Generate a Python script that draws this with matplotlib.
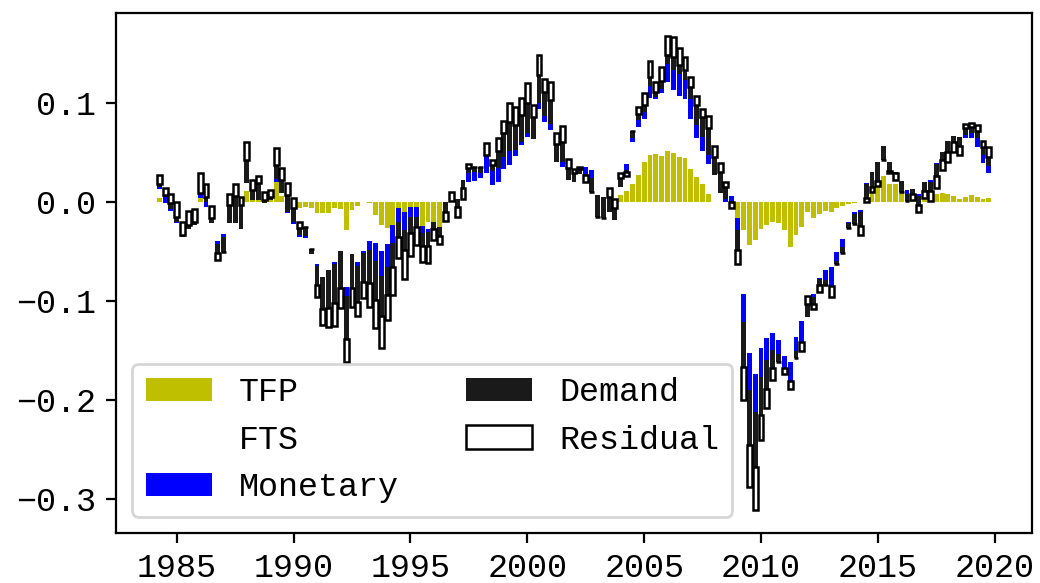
import numpy as np
import matplotlib
matplotlib.use("Agg")
import matplotlib.pyplot as plt

plt.rcParams['font.family'] = ['Liberation Mono', 'DejaVu Sans Mono']
plt.rcParams['font.size'] = 12

# quarters 1984Q2 .. 2019Q4
quarters = [f"{1984 + (k + 1) // 4}Q{(k + 1) % 4 + 1}" for k in range(143)]

tfp = [
    0.004, 0, 0, 0, 0, 0, 0, 0.004, 0.002, 0,
    0, 0, 0, 0, 0, 0.011, 0.005, 0.010, 0.005, 0.005,
    0.020, 0.006, 0, 0, -0.006, -0.005, -0.006, -0.011, -0.011, -0.011,
    -0.006, -0.007, -0.028, -0.008, -0.004, 0, -0.001, -0.013, -0.023, -0.026,
    -0.023, -0.010, -0.010, -0.005, -0.015, -0.025, -0.020, -0.020, -0.025, -0.005,
    0, 0, 0, 0, 0, 0, 0, 0, 0, 0,
    0, 0, 0, 0, 0, 0, 0, 0, 0, 0,
    0, 0, 0, 0, 0, 0, 0, 0, 0, 0.007,
    0.011, 0.018, 0.027, 0.040, 0.048, 0.049, 0.047, 0.052, 0.050, 0.046,
    0.045, 0.033, 0.025, 0.018, 0.008, 0, 0, 0, 0, -0.016,
    -0.028, -0.043, -0.038, -0.027, -0.023, -0.020, -0.021, -0.028, -0.045, -0.033,
    -0.025, -0.010, -0.016, -0.012, -0.009, -0.010, -0.006, -0.004, -0.002, -0.001,
    0, 0.001, 0.010, 0.0165, 0.026, 0.018, 0.018, 0.010, 0.008, 0.004,
    0.002, 0.004, 0.004, 0.008, 0.009, 0.008, 0.006, 0.003, 0.005, 0.007,
    0.005, 0.003, 0.004]

fts = [
    0.0088, -0.0007, -0.0088, -0.0209, -0.0357, -0.0276, -0.0233, 0.0004, -0.0074, -0.0216,
    -0.0394, -0.0324, -0.0216, -0.0216, -0.0276, 0.0079, -0.0030, -0.0080, -0.0057, -0.0030,
    0.0006, 0.0028, -0.0108, -0.0222, -0.0297, -0.0317, -0.0469, -0.0517, -0.0645, -0.0577,
    -0.0550, -0.0422, -0.0575, -0.0445, -0.0563, -0.0495, -0.0384, -0.0281, -0.0265, -0.0164,
    -0.0002, 0.0043, 0.0002, 0.0003, 0.0096, 0.0007, -0.0076, 0.0001, -0.0006, 0.0050,
    0, 0.0027, 0.0222, 0.0199, 0.0216, 0.0239, 0.0290, 0.0172, 0.0206, 0.0333,
    0.0374, 0.0468, 0.0576, 0.0660, 0.0637, 0.0940, 0.0812, 0.0727, 0.0401, 0.0357,
    0.0222, 0.0206, 0.0280, 0.0357, 0.0323, 0.0071, 0.0054, -0.0098, -0.0182, 0.0085,
    0.0271, 0.0430, 0.0491, 0.0438, 0.0574, 0.0547, 0.0634, 0.0689, 0.0631, 0.0614,
    0.0590, 0.0508, 0.0400, 0.0335, 0.0301, 0.0273, 0.0088, -0.0003, 0.0061, 0.0002,
    -0.0650, -0.1100, -0.1361, -0.1208, -0.1147, -0.1127, -0.1184, -0.1276, -0.1163, -0.1037,
    -0.0952, -0.1059, -0.0770, -0.0645, -0.0597, -0.0554, -0.0442, -0.0334, -0.0186, -0.0088,
    -0.0081, 0.0185, 0.0207, 0.0236, 0.0306, 0.0221, 0.0127, 0.0112, 0.0041, 0.0091,
    0.0058, 0.0159, 0.0182, 0.0318, 0.0419, 0.0537, 0.0611, 0.0624, 0.0600, 0.0574,
    0.0509, 0.0368, 0.0256]

monetary = [
    0.0027, 0.0054, 0.0013, 0.0010, 0, 0, 0, 0.0037, 0.0057, 0,
    -0.0030, -0.0027, 0, 0, 0, 0, 0, 0, 0, 0,
    0.0024, 0, 0.0010, 0.0024, 0.0024, 0.0020, 0, -0.0020, 0, 0,
    -0.0017, 0, -0.0091, 0, -0.0040, -0.0024, -0.0091, -0.0182, -0.0253, -0.0229,
    -0.0185, -0.0141, -0.0185, -0.0108, -0.0101, -0.0067, -0.0024, 0, 0, 0,
    0, 0, 0, 0.0091, 0.0091, 0.0057, 0.0175, 0.0141, 0.0135, 0.0125,
    0.0141, 0.0057, 0.0034, 0.0040, 0, 0.0057, 0.0061, 0.0057, 0, 0.0044,
    0, 0, 0, -0.0077, -0.0077, 0, 0, 0, 0, 0,
    -0.0057, 0.0034, 0.0067, 0.0067, 0.0121, 0.0027, 0.0037, 0.0182, 0.0202, 0.0216,
    0.0192, 0.0202, 0.0128, 0.0145, 0.0094, 0, 0, 0.0034, -0.0051, -0.0125,
    -0.0280, -0.0370, -0.0377, -0.0286, -0.0219, -0.0168, -0.0145, -0.0125, -0.0195, -0.0138,
    -0.0216, 0, -0.0027, -0.0013, -0.0101, -0.0195, -0.0094, -0.0084, -0.0010, -0.0027,
    -0.0024, -0.0017, 0, 0, 0, 0, 0, 0, -0.0044, 0,
    -0.0013, 0, -0.0024, -0.0017, 0, 0, 0, 0, 0.0027, 0.0051,
    0.0091, 0.0077, 0.0067]

demand = [
    0.0027, 0.0024, 0.0061, 0.0051, 0.0024, 0.0044, 0.0034, 0.0013, 0.0044, 0.0051,
    -0.0094, -0.0152, 0.0185, 0.0276, 0.0246, 0.0236, 0.0101, 0.0169, 0.0027, 0.0027,
    0.0145, 0.0135, 0.0169, 0.0135, 0.0067, 0.0090, 0.0054, -0.0192, -0.0330, -0.0388,
    -0.0397, -0.0381, -0.0441, -0.0347, -0.0364, -0.0286, -0.0337, -0.0397, -0.0404, -0.0286,
    -0.0236, -0.0152, -0.0202, -0.0155, -0.0101, -0.0135, -0.0145, -0.0077, -0.0088, -0.0098,
    0.0010, -0.0074, -0.0084, 0.0051, 0.0051, 0.0061, 0.0010, 0.0061, 0.0175, 0.0236,
    0.0290, 0.0253, 0.0269, 0.0296, 0.0226, 0.0286, 0.0243, 0.0246, 0.0182, 0.0209,
    0.0118, 0.0084, 0.0054, -0.0010, -0.0141, -0.0219, -0.0212, 0.0152, 0.0118, 0.0084,
    -0.0017, 0.0074, 0.0057, 0.0074, 0.0091, 0.0051, 0.0081, 0.0094, 0.0135, 0.0094,
    0.0101, 0.0125, 0.0202, 0.0202, 0.0276, 0.0185, 0.0212, 0.0118, -0.0005, -0.0202,
    -0.0455, -0.0556, -0.0556, -0.0387, -0.0293, -0.0179, -0.0074, 0, 0, -0.0074,
    0, 0.0125, -0.0074, -0.0061, -0.0051, 0, -0.0034, -0.0054, -0.0051, -0.0101,
    -0.0135, -0.0135, -0.0152, -0.0189, -0.0141, -0.0088, -0.0010, -0.0108, -0.0067, -0.0054,
    -0.0094, -0.0088, -0.0088, -0.0115, -0.0084, -0.0115, -0.0067, -0.0084, 0.0067, 0.0067,
    0.0067, 0.0084, 0.0094]

residual = [
    0.0091, 0.0074, 0.0094, 0.0145, 0.0128, 0.0145, 0.0128, 0.0195, 0.0135, 0.0125,
    -0.0067, 0, 0.0111, 0.0118, 0.0078, 0.0185, 0.0101, 0.0074, 0.0084, 0.0074,
    0.0168, 0.0118, 0.0125, 0.0101, 0.0061, 0, 0, -0.0118, -0.0158, -0.0192,
    -0.0229, -0.0202, -0.0226, -0.0185, -0.0145, -0.0168, -0.0236, -0.0286, -0.0327, -0.0253,
    -0.0286, -0.0219, -0.0296, -0.0236, -0.0179, -0.0158, -0.0175, -0.0108, -0.0081, -0.0091,
    0.0094, -0.0108, -0.0111, 0.0040, 0, 0, 0.0118, 0.0051, 0.0135, 0.0125,
    0.0192, 0.0185, 0.0175, 0.0209, 0.0118, 0.0202, 0.0125, 0.0179, 0.0111, 0.0158,
    0.0091, 0.0044, 0.0020, -0.0067, 0, 0, 0, 0.0091, 0.0094, 0.0057,
    -0.0040, 0, 0.0078, 0.0118, 0.0162, 0.0101, 0.0145, 0.0195, 0.0202, 0.0175,
    0.0135, 0.0094, 0.0091, 0.0078, 0.0121, 0.0111, 0.0091, 0.0057, -0.0067, -0.0145,
    -0.0337, -0.0421, -0.0438, -0.0253, -0.0195, -0.0125, 0, -0.0061, -0.0081, 0,
    -0.0088, 0.0088, -0.0050, -0.0067, 0, -0.0108, 0, 0, 0, 0,
    -0.0094, -0.0047, -0.0057, -0.0047, 0, -0.0024, -0.0074, 0, 0, -0.0057,
    -0.0074, -0.0074, -0.0101, -0.0121, -0.0101, -0.0101, -0.0094, -0.0094, 0.0040, 0.0034,
    0.0061, 0.0057, 0.0101]

series_names = ["TFP", "FTS", "Monetary", "Demand", "Residual"]
series_values = [tfp, fts, monetary, demand, residual]
face_colors = ["#bfbf00", "white", "#0000ff", "#1a1a1a", "white"]
edge_colors = ["none", "none", "none", "none", "black"]
line_widths = [0, 0, 0, 0, 0.9]

x = np.array([int(q[:4]) + (int(q[-1]) - 1) / 4 for q in quarters])

fig = plt.figure(figsize=(5.2, 2.915), dpi=200)
ax = fig.add_axes([0.1113, 0.0852, 0.8813, 0.8925])

bottom = np.zeros(len(x))
for name, vals, fc, ec, lw in zip(series_names, series_values, face_colors,
                                  edge_colors, line_widths):
    v = np.array(vals, dtype=float)
    ax.bar(x, v, width=0.21, bottom=bottom, color=fc, edgecolor=ec,
           linewidth=lw, label=name)
    bottom = bottom + v

ax.set_xlim(1982.39, 2021.61)
ax.set_ylim(-0.3347, 0.191)
ax.set_xticks([1985, 1990, 1995, 2000, 2005, 2010, 2015, 2020])
ax.set_yticks([-0.3, -0.2, -0.1, 0.0, 0.1])
ax.legend(loc="lower left", ncol=2)

fig.savefig("out.png", dpi=200)
